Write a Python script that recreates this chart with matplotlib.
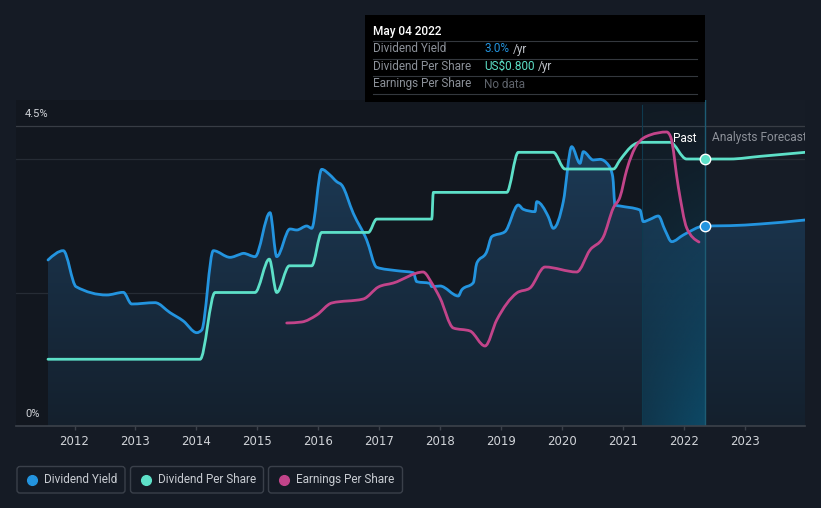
import numpy as np
import matplotlib
matplotlib.use("Agg")
import matplotlib.pyplot as plt
from matplotlib.patches import Polygon, FancyBboxPatch, PathPatch
from matplotlib.path import Path
from matplotlib.lines import Line2D
from matplotlib.colors import LinearSegmentedColormap, to_rgb

# dividend yield history (%), decimal years
yield_t = [2011.565, 2011.816, 2012.025, 2012.528, 2012.80, 2012.938, 2013.32, 2013.567, 2013.785,
           2014.005, 2014.087, 2014.277, 2014.551, 2014.715, 2014.769, 2014.961, 2015.207, 2015.317,
           2015.535, 2015.645, 2015.809, 2015.891, 2016.055, 2016.191, 2016.301, 2016.383, 2016.573,
           2016.793, 2016.957, 2017.285, 2017.558, 2017.613, 2017.83, 2017.86, 2017.996, 2018.296,
           2018.351, 2018.542, 2018.598, 2018.762, 2018.844, 2019.062, 2019.28, 2019.362, 2019.554,
           2019.582, 2019.772, 2019.854, 2020.018, 2020.156, 2020.292, 2020.346, 2020.51, 2020.62,
           2020.757, 2020.829, 2020.866, 2020.948, 2021.276, 2021.33, 2021.44, 2021.577, 2021.686,
           2021.796, 2021.987, 2022.336]
yield_v = [2.49, 2.63, 2.09, 1.965, 2.005, 1.83, 1.85, 1.70, 1.575,
           1.40, 1.44, 2.63, 2.53, 2.575, 2.59, 2.54, 3.20, 2.54,
           2.955, 2.94, 3.00, 2.965, 3.85, 3.765, 3.665, 3.615, 3.19,
           2.79, 2.38, 2.33, 2.30, 2.165, 2.14, 2.09, 2.10, 1.95,
           2.04, 2.15, 2.44, 2.615, 2.84, 2.915, 3.315, 3.25, 3.215,
           3.365, 3.14, 2.965, 3.365, 4.19, 3.94, 4.115, 3.99, 4.00,
           3.915, 3.74, 3.315, 3.30, 3.24, 3.065, 3.10, 3.15, 2.94,
           2.765, 2.865, 3.00]

# dividend per share (US$)
dps_t = [2011.565, 2014.06, 2014.305, 2014.96, 2015.195, 2015.317, 2015.524, 2015.891, 2016.055,
         2016.82, 2016.957, 2017.86, 2017.886, 2019.09, 2019.28, 2019.854, 2020.046, 2020.84,
         2020.948, 2021.167, 2021.276, 2021.77, 2022.04, 2022.336]
dps_v = [0.20, 0.20, 0.40, 0.40, 0.50, 0.40, 0.48, 0.48, 0.58,
         0.58, 0.62, 0.62, 0.70, 0.70, 0.82, 0.82, 0.77, 0.77,
         0.797, 0.842, 0.85, 0.85, 0.80, 0.80]

# earnings per share
eps_t = [2015.481, 2015.727, 2015.973, 2016.219, 2016.737, 2016.984, 2017.23, 2017.722, 2017.75,
         2017.85, 2017.996, 2018.214, 2018.488, 2018.734, 2018.926, 2019.254, 2019.472, 2019.718,
         2020.238, 2020.456, 2020.674, 2020.838, 2020.948, 2021.058, 2021.222, 2021.44, 2021.714,
         2021.78, 2021.905, 2022.043, 2022.244]
eps_v = [1.03, 1.04, 1.11, 1.23, 1.27, 1.39, 1.43, 1.54, 1.53,
         1.44, 1.28, 0.98, 0.95, 0.80, 1.06, 1.33, 1.38, 1.59,
         1.54, 1.76, 1.89, 2.18, 2.29, 2.56, 2.81, 2.91, 2.94,
         2.89, 2.39, 1.98, 1.84]

# analyst forecasts
fc_t = [2022.336, 2022.75, 2023.25, 2023.983]
fc_yield = [3.00, 3.005, 3.03, 3.09]
fc_dps = [0.80, 0.80, 0.808, 0.82]

years = list(range(2012, 2024))
today = 2022.336
past_start = 2021.31

BG = '#151b25'
C_YIELD = '#2394df'
C_DPS = '#5de0c8'
C_EPS = '#c2448a'

W, H = 821, 508


def fx(px):
    return px / W


def fy(py):
    return 1 - py / H


def smooth_path(x, y, baseline=None):
    # monotone cubic bezier through the points (same idea as d3 curveMonotoneX)
    x = np.asarray(x, float)
    y = np.asarray(y, float)
    h = np.diff(x)
    s = np.diff(y) / h
    m = np.zeros(len(x))
    for k in range(1, len(x) - 1):
        p = (s[k - 1] * h[k] + s[k] * h[k - 1]) / (h[k - 1] + h[k])
        m[k] = (np.sign(s[k - 1]) + np.sign(s[k])) * min(abs(s[k - 1]), abs(s[k]), 0.5 * abs(p))
    m[0] = (3 * s[0] - m[1]) / 2 if len(x) > 2 else s[0]
    m[-1] = (3 * s[-1] - m[-2]) / 2 if len(x) > 2 else s[-1]

    verts, codes = [], []
    if baseline is not None:
        verts.append((x[0], baseline))
        codes.append(Path.MOVETO)
        verts.append((x[0], y[0]))
        codes.append(Path.LINETO)
    else:
        verts.append((x[0], y[0]))
        codes.append(Path.MOVETO)
    for k in range(len(x) - 1):
        d = h[k] / 3
        verts += [(x[k] + d, y[k] + m[k] * d), (x[k + 1] - d, y[k + 1] - m[k + 1] * d), (x[k + 1], y[k + 1])]
        codes += [Path.CURVE4] * 3
    if baseline is not None:
        verts.append((x[-1], baseline))
        codes.append(Path.LINETO)
        verts.append((x[0], baseline))
        codes.append(Path.CLOSEPOLY)
    return Path(verts, codes)


def draw_line(ax, x, y, color):
    ax.add_patch(PathPatch(smooth_path(x, y), facecolor='none', edgecolor=color, lw=2.0,
                           joinstyle='round', capstyle='round', zorder=3))


def main():
    fig = plt.figure(figsize=(W / 100, H / 100), dpi=100, facecolor=BG)
    ax = fig.add_axes([fx(16), fy(426), fx(805) - fx(16), fy(100) - fy(426)])
    ax.set_facecolor('#161c26')
    xmin, xmax = 2011.04, 2023.983
    ymax = 4.89

    ax.axvspan(xmin, today, color='#12171f', zorder=0, lw=0)

    # gridlines
    ax.axhline(4.5, color='#383d45', lw=0.9, zorder=1)
    for g in (2.0, 4.0):
        ax.axhline(g, color='#262c35', lw=0.9, zorder=1)

    # gradient fill under dividend yield
    all_t = list(yield_t) + list(fc_t[1:])
    all_y = list(yield_v) + list(fc_yield[1:])
    area = PathPatch(smooth_path(all_t, all_y, baseline=0), facecolor='none', edgecolor='none')
    ax.add_patch(area)
    cmap = LinearSegmentedColormap.from_list('fill', ['#14202d', '#1c3a56'])
    grad = np.linspace(0, 1, 256).reshape(-1, 1)
    im = ax.imshow(grad, extent=[all_t[0], all_t[-1], 0, max(all_y) + 0.1], origin='lower',
                   aspect='auto', cmap=cmap, zorder=1.5)
    im.set_clip_path(area)

    # past year highlight
    n = 120
    v = np.linspace(0, 1, n).reshape(-1, 1)        # 0 bottom -> 1 top
    hh = np.linspace(0, 1, n).reshape(1, -1)
    rgba = np.zeros((n, n, 4))
    rgba[..., :3] = to_rgb('#0a5a7e')
    rgba[..., 3] = 0.06 + 0.64 * (1 - v) ** 1.3 * (0.5 + 0.5 * hh)
    ax.imshow(rgba, extent=[past_start, today, 0, 4.815], origin='lower', aspect='auto', zorder=1.8)
    ax.plot([past_start, past_start], [0, 4.815], color='#0e3a4e', lw=0.8, zorder=1.9)
    ax.plot([today, today], [0, ymax], color='#1d5c74', lw=1, zorder=1.9)

    # dividend yield line
    draw_line(ax, all_t, all_y, C_YIELD)
    ax.plot([today], [yield_v[-1]], 'o', ms=7.5, mfc=C_YIELD, mec='white', mew=1.0, zorder=6)

    ax.set_xlim(xmin, xmax)
    ax.set_ylim(0, ymax)

    # dividend per share on its own scale
    ax2 = ax.twinx()
    draw_line(ax2, list(dps_t) + list(fc_t[1:]), list(dps_v) + list(fc_dps[1:]), C_DPS)
    ax2.plot([today], [fc_dps[0]], 'o', ms=7.5, mfc=C_DPS, mec='white', mew=1.0, zorder=6)
    ax2.set_ylim(0, 0.9768)
    ax2.set_xlim(xmin, xmax)
    ax2.axis('off')

    # earnings per share on its own scale
    ax3 = ax.twinx()
    draw_line(ax3, eps_t, eps_v, C_EPS)
    ax3.set_ylim(0, 3.26)
    ax3.set_xlim(xmin, xmax)
    ax3.axis('off')

    # axes styling
    for s in ('top', 'right', 'left'):
        ax.spines[s].set_visible(False)
    ax.spines['bottom'].set_color('#3c424b')
    ax.spines['bottom'].set_linewidth(1.2)
    ax.set_yticks([])
    ax.set_xticks(years)
    ax.set_xticklabels([str(y) for y in years], family=['Liberation Sans Narrow', 'DejaVu Sans'],
                       fontsize=8.5, color='#d0d3d8')
    ax.tick_params(axis='x', length=3, width=1, color='#3c424b', pad=3.5)

    ax.annotate('4.5%', xy=(9 / 789, 4.5), xycoords=('axes fraction', 'data'),
                xytext=(0, 8.6), textcoords='offset points', va='center', ha='left',
                color='#d0d3d8', fontsize=8, family='Roboto')
    ax.annotate('0%', xy=(9 / 789, 0), xycoords=('axes fraction', 'data'),
                xytext=(0, 8.6), textcoords='offset points', va='center', ha='left',
                color='#d0d3d8', fontsize=8, family='Roboto')

    fig.text(fx(696), fy(138), 'Past', ha='right', va='center', color='white', fontsize=8.5, family='Roboto')
    t = ax.text(0, 0, 'Analysts Forecasts', transform=None, ha='left', va='center',
                color='#8d9199', fontsize=8.6, family='Roboto', clip_on=True)
    t.set_position((712, H - 138))

    # tooltip box
    fig.patches.append(FancyBboxPatch((365 / 100, (H - 102) / 100), 340 / 100, 87 / 100,
                                      boxstyle='square,pad=0', transform=fig.dpi_scale_trans,
                                      facecolor='black', edgecolor='none', zorder=5))
    fig.text(fx(373), fy(31), 'May 04 2022', color='white', fontsize=8.5, family='Roboto',
             weight='medium', va='center', zorder=6)
    for ly in (41, 58.5, 76, 93.5):
        fig.add_artist(Line2D([fx(373), fx(697)], [fy(ly), fy(ly)], color='#34383e', lw=0.8, zorder=6))
    rows = [('Dividend Yield', '3.0%', C_YIELD, 49, True),
            ('Dividend Per Share', 'US$0.800', C_DPS, 66.5, True),
            ('Earnings Per Share', 'No data', '#5e636b', 84, False)]
    renderer = fig.canvas.get_renderer()
    for label, val, col, ry, per_year in rows:
        fig.text(fx(373), fy(ry), label, color='#8c9199', fontsize=8.5, family='Roboto', va='center', zorder=6)
        vt = fig.text(fx(484), fy(ry), val, color=col, fontsize=8.5, family='Roboto', va='center', zorder=6)
        if per_year:
            x1 = vt.get_window_extent(renderer).x1
            fig.text(fx(x1 + 3.5), fy(ry), '/yr', color='#c0c4ca', fontsize=8.5, family='Roboto',
                     va='center', zorder=6)

    # legend
    items = [('Dividend Yield', C_YIELD, 17, 125, 32, 44),
             ('Dividend Per Share', C_DPS, 130.5, 263.5, 145.7, 158.3),
             ('Earnings Per Share', C_EPS, 268.5, 402.5, 283.7, 296.3)]
    for label, col, x0, x1, cx, tx in items:
        fig.patches.append(FancyBboxPatch((x0 / 100, (H - 493) / 100), (x1 - x0) / 100, 26.5 / 100,
                                          boxstyle='round,pad=0,rounding_size=0.03',
                                          transform=fig.dpi_scale_trans, facecolor='none',
                                          edgecolor='#3a404a', lw=1))
        fig.add_artist(Line2D([fx(cx)], [fy(479.5)], marker='o', ms=7, color=col, mec=col))
        fig.text(fx(tx), fy(479.5), label, color='#c8ccd2', fontsize=8.5, family='Roboto', va='center')

    fig.savefig('out.png', dpi=100, facecolor=BG)


if __name__ == "__main__":
    main()
